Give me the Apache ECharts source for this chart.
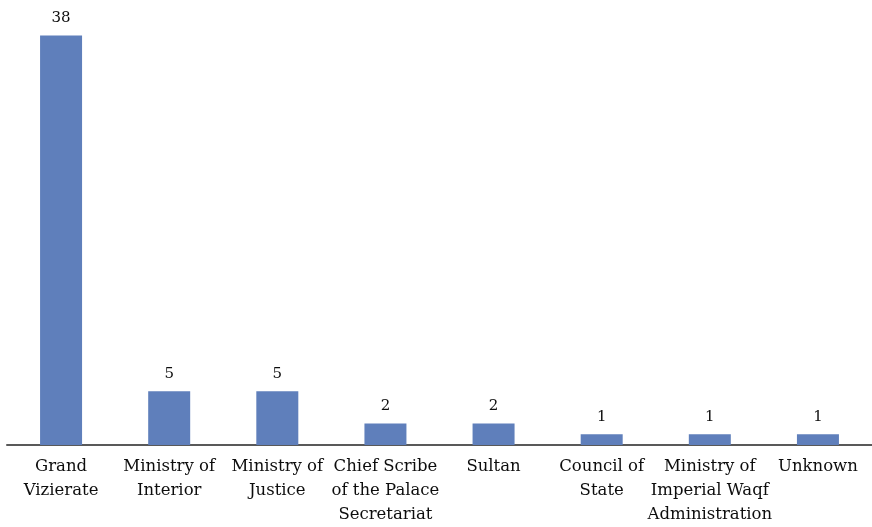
<!DOCTYPE html>
<html><head><meta charset="utf-8">
<script src="https://cdn.jsdelivr.net/npm/echarts@6/dist/echarts.min.js"></script>
<style>html,body{margin:0;padding:0;background:#fff}#c{width:872px;height:527px}</style>
</head><body><div id="c"></div>
<script>
const categories = ["Grand\nVizierate","Ministry of\nInterior","Ministry of\nJustice","Chief Scribe\nof the Palace\nSecretariat","Sultan","Council of\nState","Ministry of\nImperial Waqf\nAdministration","Unknown"];
const values = [38,5,5,2,2,1,1,1];
const chart = echarts.init(document.getElementById('c'), null, {renderer:'canvas'});
chart.setOption({
  animation:false,
  backgroundColor:'#ffffff',
  grid:{left:7, width:871, top:14, bottom:81},
  xAxis:{type:'category', data:categories,
    axisLine:{lineStyle:{color:'#595959', width:2}},
    axisTick:{show:false},
    axisLabel:{interval:0, color:'#0d0d0d', fontFamily:'DejaVu Serif', fontSize:16.5, lineHeight:24, margin:10}},
  yAxis:{type:'value', min:0, max:40, show:false, splitLine:{show:false}},
  series:[{type:'bar', data:values, barWidth:42,
    itemStyle:{color:'#5f7fbb'},
    label:{show:true, position:'top', distance:10, color:'#0d0d0d', fontFamily:'DejaVu Serif', fontSize:15}}]
});
</script></body></html>
